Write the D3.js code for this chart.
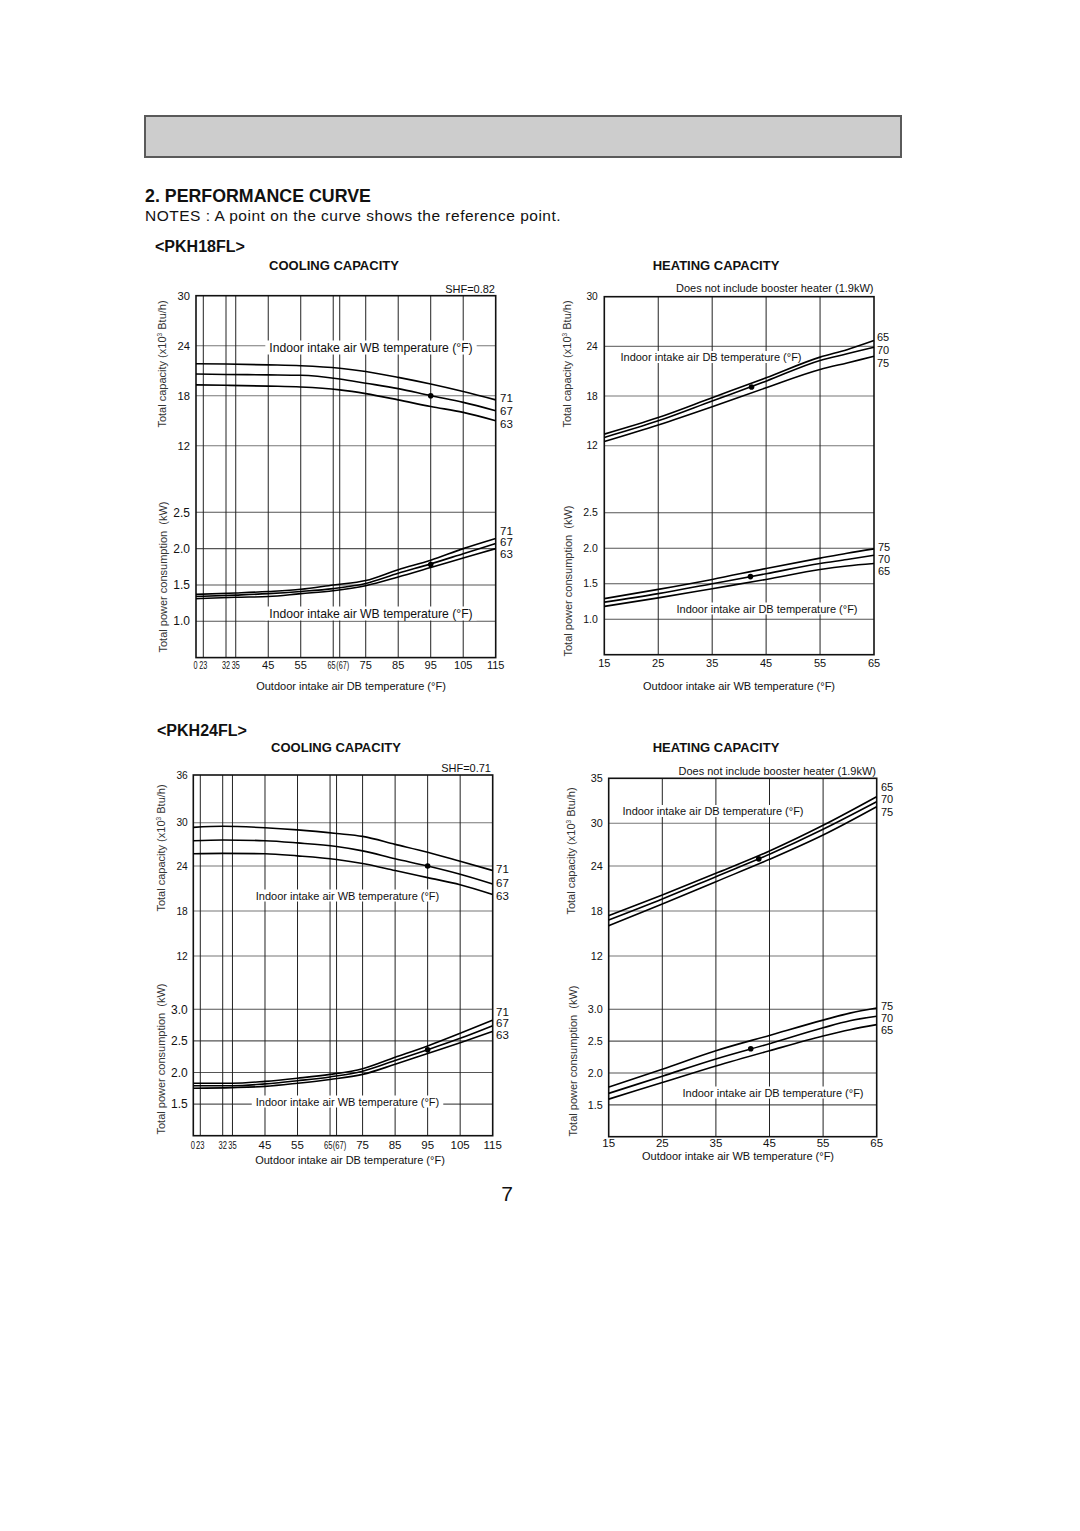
<!DOCTYPE html>
<html><head><meta charset="utf-8">
<script src="https://cdn.jsdelivr.net/npm/d3@7"></script>
<style>
body{margin:0;background:#fff;}
svg{display:block;font-family:"Liberation Sans",Arial,Helvetica,sans-serif;}
text{white-space:pre;}
</style></head><body>
<svg id="c" width="1080" height="1531"></svg>
<script>
// ---------- DATA ----------
const coolXTicks = [0,23,32,35,45,55,65,67,75,85,95,105,115];
const heatXTicks = [15,25,35,45,55,65];
const coolCapX = [0,32,45,55,67,75,85,95,105,115];
const coolPowX = [0,35,45,55,65,75,85,95,105,115];
const heatX = [15,25,35,45,55,60,65];
const heat24CapX = [15,25,35,45,55,65];
const coolWBLabels = ["71","67","63"];
const heatCapLabels = ["65","70","75"];
const heatPowLabels = ["75","70","65"];

// PKH18FL cooling
const c18CapTicks = [30,24,18,12];
const c18PowTicks = [2.5,2.0,1.5,1.0];
const c18Cap71 = [21.84,21.8,21.7,21.6,21.3,20.9,20.2,19.4,18.5,17.5];
const c18Cap67 = [20.6,20.55,20.5,20.45,20.0,19.5,18.85,18.0,17.2,16.2];
const c18Cap63 = [19.3,19.25,19.15,19.05,18.7,18.25,17.5,16.7,16.0,15.0];
const c18Pow71 = [1.37,1.39,1.41,1.44,1.50,1.56,1.71,1.84,2.00,2.14];
const c18Pow67 = [1.34,1.36,1.38,1.41,1.45,1.52,1.66,1.79,1.93,2.07];
const c18Pow63 = [1.31,1.33,1.34,1.38,1.42,1.49,1.61,1.74,1.87,2.00];
const c18CapRef = [95,18.0];
const c18PowRef = [95,1.78];

// PKH18FL heating
const h18CapTicks = [30,24,18,12];
const h18PowTicks = [2.5,2.0,1.5,1.0];
const h18Cap65 = [13.4,15.4,17.8,20.2,22.7,23.6,24.7];
const h18Cap70 = [13.0,15.0,17.4,19.8,22.3,23.1,23.9];
const h18Cap75 = [12.5,14.5,16.7,19.0,21.2,22.0,22.8];
const h18Pow75 = [1.29,1.42,1.56,1.715,1.86,1.93,1.99];
const h18Pow70 = [1.24,1.36,1.50,1.64,1.785,1.84,1.90];
const h18Pow65 = [1.18,1.30,1.43,1.56,1.70,1.75,1.785];
const h18CapRef = [42.3,19.1];
const h18PowRef = [42.1,1.6];

// PKH24FL cooling
const c24CapTicks = [36,30,24,18,12];
const c24PowTicks = [3.0,2.5,2.0,1.5];
const c24Cap71 = [29.35,29.5,29.3,29.0,28.5,28.1,27.0,25.9,24.65,23.4];
const c24Cap67 = [27.5,27.6,27.5,27.2,26.7,26.1,25.0,24.0,22.9,21.6];
const c24Cap63 = [25.7,25.75,25.7,25.4,24.9,24.35,23.4,22.45,21.5,20.2];
const c24Pow71 = [1.83,1.83,1.86,1.91,1.97,2.06,2.24,2.42,2.62,2.83];
const c24Pow67 = [1.79,1.79,1.82,1.87,1.93,2.02,2.19,2.36,2.54,2.74];
const c24Pow63 = [1.75,1.76,1.78,1.83,1.89,1.97,2.13,2.30,2.47,2.65];
const c24CapRef = [95,24.0];
const c24PowRef = [95,2.36];

// PKH24FL heating
const h24CapTicks = [35,30,24,18,12];
const h24PowTicks = [3.0,2.5,2.0,1.5];
const h24Cap65 = [17.38,20.13,23.02,26.11,29.72,32.96];
const h24Cap70 = [16.8,19.6,22.58,25.64,29.16,32.4];
const h24Cap75 = [16.04,18.93,21.91,24.94,28.36,31.85];
const h24Pow75 = [1.78,2.06,2.35,2.59,2.83,2.94,3.02];
const h24Pow70 = [1.68,1.95,2.22,2.46,2.71,2.82,2.89];
const h24Pow65 = [1.59,1.85,2.11,2.35,2.58,2.68,2.76];
const h24CapRef = [43,25.0];
const h24PowRef = [41.5,2.38];

// ---------- DRAW ----------
const svg = d3.select("#c");

// header box
svg.append("rect").attr("x",145).attr("y",116).attr("width",756).attr("height",41)
  .attr("fill","#cdcdcd").attr("stroke","#5a5a5a").attr("stroke-width",2);

function txt(x,y,s,size,opt={}){
  const t = svg.append("text").attr("x",x).attr("y",y).text(s)
    .attr("font-size",size).attr("fill",opt.fill||"#111");
  if(opt.bold) t.attr("font-weight","bold");
  if(opt.anchor) t.attr("text-anchor",opt.anchor);
  if(opt.ls) t.attr("letter-spacing",opt.ls);
  return t;
}
txt(145,202,"2. PERFORMANCE CURVE",17.8,{bold:true});
txt(145,221,"NOTES : A point on the curve shows the reference point.",15.5,{ls:0.5});
txt(155,252,"<PKH18FL>",16,{bold:true});
txt(334,270,"COOLING CAPACITY",13,{bold:true,anchor:"middle"});
txt(716,270,"HEATING CAPACITY",13,{bold:true,anchor:"middle"});
txt(157,736,"<PKH24FL>",16,{bold:true});
txt(336,752,"COOLING CAPACITY",13,{bold:true,anchor:"middle"});
txt(716,752,"HEATING CAPACITY",13,{bold:true,anchor:"middle"});
txt(507,1201,"7",21,{anchor:"middle"});

function labelBox(g, x, y, s, size){
  const t = g.append("text").attr("x",x).attr("y",y).attr("text-anchor","middle")
    .attr("font-size",size).attr("fill","#111").text(s);
  const b = t.node().getBBox();
  g.insert("rect", function(){return t.node();})
    .attr("x",b.x-4).attr("y",b.y).attr("width",b.width+8).attr("height",b.height)
    .attr("fill","#fff");
}

function yTitle(g, x, y, parts, size){
  const t = g.append("text").attr("transform",`translate(${x},${y}) rotate(-90)`)
    .attr("text-anchor","middle").attr("font-size",size).attr("fill","#333");
  if(parts.length===1){ t.text(parts[0]); return; }
  t.append("tspan").text(parts[0]);
  t.append("tspan").attr("font-size",size*0.6).attr("dy",-size*0.38).text(parts[1]);
  t.append("tspan").attr("dy",size*0.38).text(parts[2]);
}

function panel(p){
  const g = svg.append("g");
  const xs = p.xTicks;
  const x0 = p.x(xs[0]), x1 = p.x(xs[xs.length-1]);
  const yTop = p.yc(p.capTicks[0]), yBot = p.yp(p.powBottom);
  // horizontal grid
  p.capTicks.slice(1).forEach(t=>{
    g.append("line").attr("x1",x0).attr("x2",x1).attr("y1",p.yc(t)).attr("y2",p.yc(t))
      .attr("stroke","#777").attr("stroke-width",1.1);
  });
  p.powTicks.forEach(t=>{
    g.append("line").attr("x1",x0).attr("x2",x1).attr("y1",p.yp(t)).attr("y2",p.yp(t))
      .attr("stroke","#555").attr("stroke-width",1.1);
  });
  // vertical grid
  xs.slice(1,-1).forEach(t=>{
    g.append("line").attr("x1",p.x(t)).attr("x2",p.x(t)).attr("y1",yTop).attr("y2",yBot)
      .attr("stroke","#222").attr("stroke-width",1);
  });
  // frame
  g.append("rect").attr("x",x0).attr("y",yTop).attr("width",x1-x0).attr("height",yBot-yTop)
    .attr("fill","none").attr("stroke","#111").attr("stroke-width",1.6);

  // in-plot labels with white box
  labelBox(g, p.capLab[0], p.capLab[1], p.capLab[2], p.capLab[3]);
  labelBox(g, p.powLab[0], p.powLab[1], p.powLab[2], p.powLab[3]);

  // curves
  const mk = (yS)=> d3.line().x(d=>p.x(d[0])).y(d=>yS(d[1])).curve(d3.curveMonotoneX);
  p.capSeries.forEach(s=>{
    g.append("path").attr("d",mk(p.yc)(d3.zip(s.xv,s.yv))).attr("fill","none")
      .attr("stroke","#000").attr("stroke-width",1.6);
  });
  p.powSeries.forEach(s=>{
    g.append("path").attr("d",mk(p.yp)(d3.zip(s.xv,s.yv))).attr("fill","none")
      .attr("stroke","#000").attr("stroke-width",1.6);
  });
  // reference dots
  g.append("circle").attr("cx",p.x(p.capRef[0])).attr("cy",p.yc(p.capRef[1])).attr("r",2.8).attr("fill","#000");
  g.append("circle").attr("cx",p.x(p.powRef[0])).attr("cy",p.yp(p.powRef[1])).attr("r",2.8).attr("fill","#000");

  // y tick labels
  p.capTicks.forEach(t=>{
    g.append("text").attr("x",x0-p.tickGap).attr("y",p.yc(t)).attr("dy","0.35em")
      .attr("text-anchor","end").attr("font-size",p.capTickSize).attr("fill","#111").text(t);
  });
  p.powTicks.forEach(t=>{
    g.append("text").attr("x",x0-p.tickGap).attr("y",p.yp(t)).attr("dy","0.35em")
      .attr("text-anchor","end").attr("font-size",p.powTickSize).attr("fill","#111").text(d3.format(".1f")(t));
  });
  // x tick labels
  xs.forEach(t=>{
    const narrow = p.cooling && (t<40 || t===65 || t===67);
    const s = (p.cooling && t===67) ? "(67)" : String(t);
    let px = p.x(t);
    if(p.cooling && t===65) px -= 1.8;
    if(p.cooling && t===67) px += 3;
    if(p.cooling && t===0) px -= 0.5;
    const tt = g.append("text").attr("text-anchor","middle").attr("font-size",p.xTickSize)
      .attr("fill","#111").text(s);
    if(narrow) tt.attr("transform",`translate(${px},${p.xTickY}) scale(0.66,1)`);
    else tt.attr("x",px).attr("y",p.xTickY);
  });
  // x title
  g.append("text").attr("x",p.xTitle[0]).attr("y",p.xTitle[1]).attr("text-anchor","middle")
    .attr("font-size",11).attr("fill","#111").text(p.xTitle[2]);
  // y titles
  yTitle(g, p.capTitle[0], p.capTitle[1], ["Total capacity (x10","3"," Btu/h)"], 11);
  yTitle(g, p.powTitle[0], p.powTitle[1], ["Total power consumption  (kW)"], 11);
  // top-right note
  g.append("text").attr("x",p.note[0]).attr("y",p.note[1]).attr("text-anchor","end")
    .attr("font-size",p.note[3]).attr("fill","#111").text(p.note[2]);
  // series labels
  p.capNames.forEach((n,i)=>{
    g.append("text").attr("x",p.capNameX).attr("y",p.capNameY[i]).attr("dy","0.35em")
      .attr("font-size",p.nameSize).attr("fill","#111").text(n);
  });
  p.powNames.forEach((n,i)=>{
    g.append("text").attr("x",p.powNameX).attr("y",p.powNameY[i]).attr("dy","0.35em")
      .attr("font-size",p.nameSize).attr("fill","#111").text(n);
  });
}

const WB = "Indoor intake air WB temperature (°F)";
const DB = "Indoor intake air DB temperature (°F)";
const BOOST = "Does not include booster heater (1.9kW)";

// PKH18FL cooling
panel({
  cooling:true,
  x: d3.scaleLinear().domain([0,23,32,115]).range([196,203.3,226,495.7]),
  yc: d3.scaleLinear().domain([12,30]).range([445.7,295.7]),
  yp: d3.scaleLinear().domain([0.5,2.5]).range([657.6,512.3]),
  powBottom:0.5, xTicks:coolXTicks, capTicks:c18CapTicks, powTicks:c18PowTicks,
  capSeries:[{xv:coolCapX,yv:c18Cap71},{xv:coolCapX,yv:c18Cap67},{xv:coolCapX,yv:c18Cap63}],
  powSeries:[{xv:coolPowX,yv:c18Pow71},{xv:coolPowX,yv:c18Pow67},{xv:coolPowX,yv:c18Pow63}],
  capRef:c18CapRef, powRef:c18PowRef,
  capLab:[371,351.5,WB,12.2], powLab:[371,617.5,WB,12.2],
  tickGap:6, capTickSize:11.2, powTickSize:12, xTickSize:11, xTickY:668.5,
  xTitle:[351,690,"Outdoor intake air DB temperature (°F)"],
  capTitle:[166,364], powTitle:[167,577],
  note:[495,293,"SHF=0.82",11],
  capNames:coolWBLabels, capNameX:500, capNameY:[398,411,424],
  powNames:coolWBLabels, powNameX:500, powNameY:[530.5,542,553.5], nameSize:11.5
});

// PKH18FL heating
panel({
  cooling:false,
  x: d3.scaleLinear().domain([15,65]).range([604.3,874]),
  yc: d3.scaleLinear().domain([12,30]).range([445.7,296.7]),
  yp: d3.scaleLinear().domain([0.5,2.5]).range([654.7,512.7]),
  powBottom:0.5, xTicks:heatXTicks, capTicks:h18CapTicks, powTicks:h18PowTicks,
  capSeries:[{xv:heatX,yv:h18Cap65},{xv:heatX,yv:h18Cap70},{xv:heatX,yv:h18Cap75}],
  powSeries:[{xv:heatX,yv:h18Pow75},{xv:heatX,yv:h18Pow70},{xv:heatX,yv:h18Pow65}],
  capRef:h18CapRef, powRef:h18PowRef,
  capLab:[711,361,DB,11], powLab:[767,612.5,DB,11],
  tickGap:6.5, capTickSize:10.2, powTickSize:10.5, xTickSize:11, xTickY:666.5,
  xTitle:[739,690,"Outdoor intake air WB temperature (°F)"],
  capTitle:[571,364], powTitle:[572,581],
  note:[873.5,292,BOOST,11],
  capNames:heatCapLabels, capNameX:877, capNameY:[337,350,363],
  powNames:heatPowLabels, powNameX:878, powNameY:[547,559.5,571.5], nameSize:11
});

// PKH24FL cooling
panel({
  cooling:true,
  x: d3.scaleLinear().domain([0,23,32,115]).range([193.3,200.3,222.7,492.7]),
  yc: d3.scaleLinear().domain([12,18,24,30,36]).range([956,911,866,822.7,775]),
  yp: d3.scaleLinear().domain([1,3]).range([1135.7,1009.3]),
  powBottom:1, xTicks:coolXTicks, capTicks:c24CapTicks, powTicks:c24PowTicks,
  capSeries:[{xv:coolCapX,yv:c24Cap71},{xv:coolCapX,yv:c24Cap67},{xv:coolCapX,yv:c24Cap63}],
  powSeries:[{xv:coolPowX,yv:c24Pow71},{xv:coolPowX,yv:c24Pow67},{xv:coolPowX,yv:c24Pow63}],
  capRef:c24CapRef, powRef:c24PowRef,
  capLab:[347.5,899.5,WB,11], powLab:[347.5,1105.5,WB,11],
  tickGap:5.5, capTickSize:10.2, powTickSize:12, xTickSize:11.5, xTickY:1148.5,
  xTitle:[350,1164,"Outdoor intake air DB temperature (°F)"],
  capTitle:[165,848], powTitle:[165,1059],
  note:[491,771.5,"SHF=0.71",11],
  capNames:coolWBLabels, capNameX:496, capNameY:[869,883,896],
  powNames:coolWBLabels, powNameX:496, powNameY:[1011.5,1023,1034.5], nameSize:11.5
});

// PKH24FL heating
panel({
  cooling:false,
  x: d3.scaleLinear().domain([15,65]).range([608.7,876.7]),
  yc: d3.scaleLinear().domain([12,18,24,30,35]).range([956,911,866,823.3,778.3]),
  yp: d3.scaleLinear().domain([1,3]).range([1136.7,1009.3]),
  powBottom:1, xTicks:heatXTicks, capTicks:h24CapTicks, powTicks:h24PowTicks,
  capSeries:[{xv:heat24CapX,yv:h24Cap65},{xv:heat24CapX,yv:h24Cap70},{xv:heat24CapX,yv:h24Cap75}],
  powSeries:[{xv:heatX,yv:h24Pow75},{xv:heatX,yv:h24Pow70},{xv:heatX,yv:h24Pow65}],
  capRef:h24CapRef, powRef:h24PowRef,
  capLab:[713,815,DB,11], powLab:[773,1096.5,DB,11],
  tickGap:6, capTickSize:10.8, powTickSize:10.8, xTickSize:11.5, xTickY:1146.5,
  xTitle:[738,1160,"Outdoor intake air WB temperature (°F)"],
  capTitle:[575,851], powTitle:[577,1061],
  note:[876,774.5,BOOST,11],
  capNames:heatCapLabels, capNameX:881, capNameY:[787,799.5,812],
  powNames:heatPowLabels, powNameX:881, powNameY:[1006,1018,1030], nameSize:11
});
</script>
</body></html>
